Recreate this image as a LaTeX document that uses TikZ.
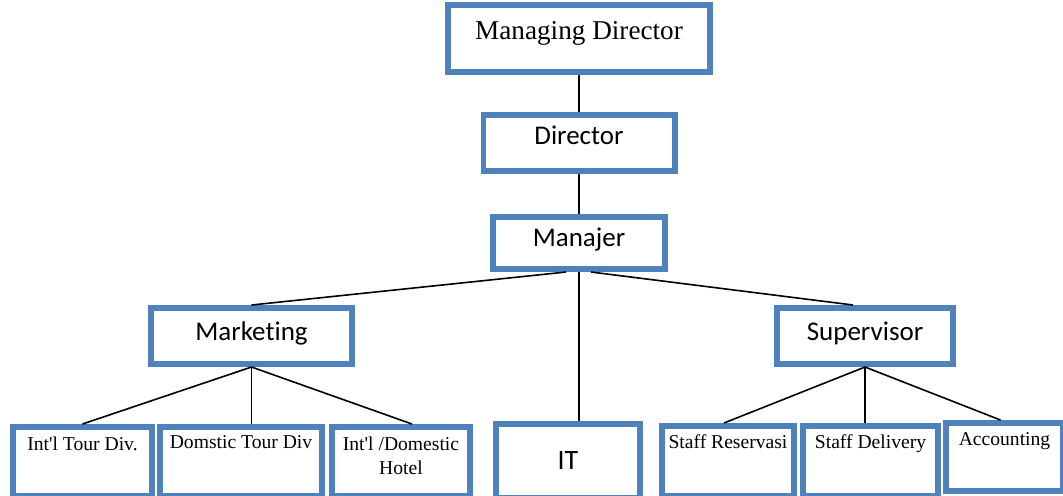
\documentclass[tikz,border=0pt]{standalone}
\usepackage{fontspec}
\setmainfont{Liberation Serif}
\newfontfamily\calibri[Ligatures=NoCommon]{Carlito}
\usepackage{tikz}
\usetikzlibrary{positioning}

\definecolor{boxblue}{RGB}{79,129,189}
\tikzset{
  unit/.style={draw=boxblue, line width=2.85pt, inner sep=0pt, fill=white},
  head/.style={unit, font=\calibri\fontsize{13.5}{16}\selectfont},
  top/.style={unit, font=\fontsize{13.6}{16}\selectfont},
  leaf/.style={unit, font=\fontsize{9.8}{12}\selectfont, align=center},
  link/.style={line width=0.8pt}
}

\begin{document}
\begin{tikzpicture}[x=0.5pt, y=-0.5pt]

  \useasboundingbox (0,0) rectangle (1063,495);

  % Define nodes
  \node[top, minimum width=131.15pt, text height=17.1pt, text depth=16.55pt] (md) at (579,38.5) {Managing Director};
  \node[head, below=18.5pt of md, minimum width=95.65pt, text height=14.7pt, text depth=13.45pt] (dir) {Director};
  \node[head, below=20pt of dir, minimum width=86.15pt, text height=14.9pt, text depth=11.25pt] (man) {Manajer};

  \node[head, minimum width=100.65pt, text height=16.1pt, text depth=12.05pt] (mkt) at (251.5,336) {Marketing};
  \node[head, minimum width=88.15pt, text height=16.1pt, text depth=12.05pt] (sup) at (865,336) {Supervisor};

  \node[leaf, minimum width=69.65pt, text height=11.6pt, text depth=23.05pt] (itour) at (82.5,461.5) {Int\textquotesingle l Tour Div.};
  \node[leaf, right=1pt of itour, minimum width=81.15pt, text height=10.6pt, text depth=24.05pt] (domstic) {Domstic Tour Div};
  \node[leaf, right=2pt of domstic, minimum width=69.15pt, text height=23.6pt, text depth=11.05pt] (hotel) {Int\textquotesingle l /Domestic\\Hotel};

  \node[head, font=\calibri\fontsize{14}{16}\selectfont, minimum width=72.15pt, text height=22.6pt, text depth=14.55pt] (it) at (568,461) {IT};

  \node[leaf, minimum width=66.15pt, text height=11.2pt, text depth=23.95pt] (sres) at (728,461) {Staff Reservasi};
  \node[leaf, right=1.5pt of sres, minimum width=67.65pt, text height=11.2pt, text depth=23.95pt] (sdel) {Staff Delivery};
  \node[leaf, minimum width=58.65pt, text height=11.1pt, text depth=23.05pt] (acc) at (1004.5,457) {Accounting};

  % Connect the nodes
  \draw[link] (md) -- (dir);
  \draw[link] (dir) -- (man);
  \draw[link] ([xshift=-6.5pt]man.south) -- (mkt.north);
  \draw[link] (man.south) -- (man.south |- it.north);
  \draw[link] ([xshift=6pt]man.south) -- ([xshift=-6pt]sup.north);

  \draw[link] (mkt.south) -- (itour.north);
  \draw[link] (mkt.south) -- (mkt.south |- domstic.north);
  \draw[link] (mkt.south) -- ([xshift=5.5pt]hotel.north);

  \draw[link] (sup.south) -- ([xshift=-2pt]sres.north);
  \draw[link] (sup.south) -- (sup.south |- sdel.north);
  \draw[link] (sup.south) -- ([xshift=-2pt]acc.north);

\end{tikzpicture}
\end{document}
